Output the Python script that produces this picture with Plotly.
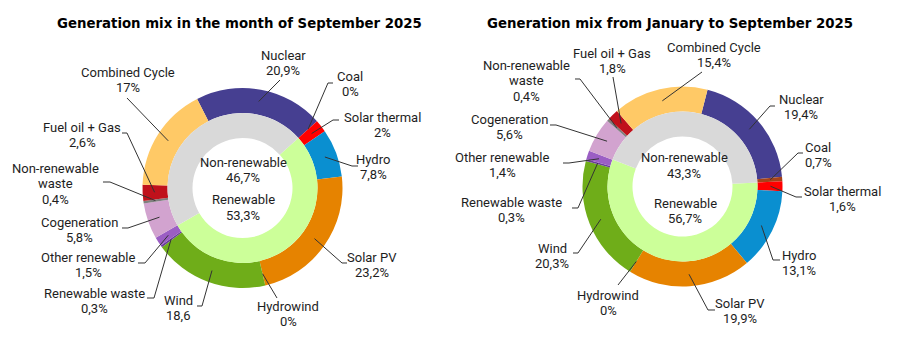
import math
import plotly.graph_objects as go

# ---- data -------------------------------------------------------------
categories = ["Nuclear", "Coal", "Solar thermal", "Hydro", "Solar PV", "Hydrowind", "Wind",
              "Renewable waste", "Other renewable", "Cogeneration", "Non-renewable waste",
              "Fuel oil + Gas", "Combined Cycle"]
category_text = ["Nuclear", "Coal", "Solar thermal", "Hydro", "Solar PV", "Hydrowind", "Wind",
                 "Renewable waste", "Other renewable", "Cogeneration", "Non-renewable<br>waste",
                 "Fuel oil + Gas", "Combined Cycle"]
september_values = [20.9, 0, 2, 7.8, 23.2, 0, 18.6, 0.3, 1.5, 5.8, 0.4, 2.6, 17]
year_to_date_values = [19.4, 0.7, 1.6, 13.1, 19.9, 0, 20.3, 0.3, 1.4, 5.6, 0.4, 1.8, 15.4]

group_labels = ["Renewable", "Non-renewable"]
september_groups = [53.3, 46.7]
year_to_date_groups = [56.7, 43.3]

chart_titles = ["Generation mix in the month of September 2025",
                "Generation mix from January to September 2025"]

# ---- style ------------------------------------------------------------
W, H = 900, 344
colors = ["#463f91", "#a5431a", "#ff0000", "#0a8fd0", "#e68300", "#2a6ebb", "#6fad19",
          "#6b3e99", "#9b5ec4", "#d2a3cf", "#7f7f7f", "#c0111b", "#ffc966"]
group_colors = ["#ccff99", "#d9d9d9"]
LABEL_FONT = dict(family="Roboto, Arial, sans-serif", size=13, color="#1e1e1e")
TITLE_FONT = dict(family="DejaVu Sans Condensed, Roboto, sans-serif",
                  size=14.8, color="#000000", weight="bold")
LINE_COLOR = "#333333"
LINE_STEP = 15.5  # px between text lines

R_OUT, R_MID, R_HOLE = 100, 75, 50


def fmt(v, suffix="%"):
    return f"{v:g}".replace(".", ",") + suffix


def px(x, y):
    return x / W, 1 - y / H


# label placement per chart: text centre, then the leader line's
# start next to the text and (optionally) its elbow point
left_layout = {
    "Nuclear": ((283, 63), [(280, 80)]),
    "Coal": ((350, 84), [(333, 83), (328, 83)]),
    "Solar thermal": ((382, 125), [(339, 120), (333, 120)]),
    "Hydro": ((373, 167), [(358, 166), (352, 166)]),
    "Solar PV": ((372, 265), [(347, 263), (342, 263)]),
    "Hydrowind": ((288, 314), [(277, 298)]),
    "Wind": ((178, 308), [(197, 306), (202, 306)]),
    "Renewable waste": ((94, 301), [(147, 298), (154, 298)]),
    "Other renewable": ((88, 265), [(138, 263), (145, 263)]),
    "Cogeneration": ((79, 230), [(122, 228), (128, 228)]),
    "Non-renewable waste": ((55, 184), [(103, 182), (110, 182)]),
    "Fuel oil + Gas": ((82, 135), [(122, 133), (127, 133)]),
    "Combined Cycle": ((128, 80), [(127, 98)]),
}
right_layout = {
    "Combined Cycle": ((714, 55), [(702, 72)]),
    "Nuclear": ((801, 107), [(775, 106), (770, 106)]),
    "Coal": ((818, 155), [(803, 153), (798, 153)]),
    "Solar thermal": ((842, 199), [(802, 197), (796, 197)]),
    "Hydro": ((799, 263), [(780, 260), (773, 260)]),
    "Solar PV": ((740, 311), [(715, 310), (708, 310)]),
    "Hydrowind": ((608, 303), [(618, 285)]),
    "Wind": ((552, 256), [(573, 253), (578, 253)]),
    "Renewable waste": ((511, 210), [(572, 208), (578, 208)]),
    "Other renewable": ((502, 165), [(563, 163), (569, 163)]),
    "Cogeneration": ((509, 127), [(550, 125), (556, 125)]),
    "Non-renewable waste": ((526, 81), [(575, 79), (580, 79)]),
    "Fuel oil + Gas": ((612, 61), [(613, 77)]),
}

charts = [
    dict(values=september_values, groups=september_groups, centre=(242.5, 188), start=-27,
         title=chart_titles[0], title_pos=(239, 22), layout=left_layout,
         group_pos=[(243, 207.5), (243, 170)], no_pct={"Wind"}),
    dict(values=year_to_date_values, groups=year_to_date_groups, centre=(682.5, 186.5), start=14.5,
         title=chart_titles[1], title_pos=(670, 22), layout=right_layout,
         group_pos=[(685, 211), (684, 165.5)], no_pct=set()),
]

fig = go.Figure()
annotations, shapes = [], []


def add_text_block(text, cx, cy):
    """Centre a multi-line label on (cx, cy), one annotation per line."""
    lines = text.split("<br>")
    top = cy - LINE_STEP * (len(lines) - 1) / 2
    for i, line in enumerate(lines):
        x, y = px(cx, top + i * LINE_STEP)
        annotations.append(dict(text=line, x=x, y=y, xref="paper", yref="paper",
                                showarrow=False, xanchor="center", yanchor="middle",
                                font=LABEL_FONT))


for ch in charts:
    cx, cy = ch["centre"]
    vals = ch["values"]
    total = sum(vals)

    # outer ring: individual technologies
    fig.add_trace(go.Pie(
        labels=categories, values=vals, sort=False, direction="clockwise",
        rotation=ch["start"], hole=R_MID / R_OUT, textinfo="none",
        marker=dict(colors=colors, line=dict(width=0)), showlegend=False,
        domain=dict(x=[(cx - R_OUT) / W, (cx + R_OUT) / W],
                    y=[1 - (cy + R_OUT) / H, 1 - (cy - R_OUT) / H]),
    ))

    # inner ring: renewable vs non-renewable, starting where the
    # renewable block begins in the outer ring (after Nuclear and Coal)
    renew_start = ch["start"] + (vals[0] + vals[1]) / total * 360
    fig.add_trace(go.Pie(
        labels=group_labels, values=ch["groups"], sort=False, direction="clockwise",
        rotation=renew_start, hole=R_HOLE / R_MID, textinfo="none",
        marker=dict(colors=group_colors, line=dict(width=0)), showlegend=False,
        domain=dict(x=[(cx - R_MID) / W, (cx + R_MID) / W],
                    y=[1 - (cy + R_MID) / H, 1 - (cy - R_MID) / H]),
    ))

    # title
    tx, ty = px(*ch["title_pos"])
    annotations.append(dict(text=ch["title"], x=tx, y=ty, xref="paper", yref="paper",
                            showarrow=False, xanchor="center", yanchor="middle",
                            font=TITLE_FONT))

    # centre labels
    for name, v, pos in zip(group_labels, ch["groups"], ch["group_pos"]):
        add_text_block(f"{name}<br>{fmt(v)}", *pos)

    # outer labels with leader lines to the slice middles
    acc = 0.0
    for name, text, v in zip(categories, category_text, vals):
        mid = ch["start"] + (acc + v / 2) / total * 360
        acc += v
        ang = math.radians(mid)
        ax = cx + 0.88 * R_OUT * math.sin(ang)
        ay = cy - 0.88 * R_OUT * math.cos(ang)
        (lx, ly), pts = ch["layout"][name]
        suffix = "" if name in ch["no_pct"] else "%"
        add_text_block(f"{text}<br>{fmt(v, suffix)}", lx, ly)
        path_pts = [px(*p) for p in pts] + [px(ax, ay)]
        path = "M " + " L ".join(f"{p[0]:.5f},{p[1]:.5f}" for p in path_pts)
        shapes.append(dict(type="path", path=path, xref="paper", yref="paper",
                           layer="above", line=dict(color=LINE_COLOR, width=1)))

fig.update_layout(
    width=W, height=H, margin=dict(l=0, r=0, t=0, b=0),
    paper_bgcolor="white", plot_bgcolor="white",
    annotations=annotations, shapes=shapes,
)

fig.write_html("out.html")
